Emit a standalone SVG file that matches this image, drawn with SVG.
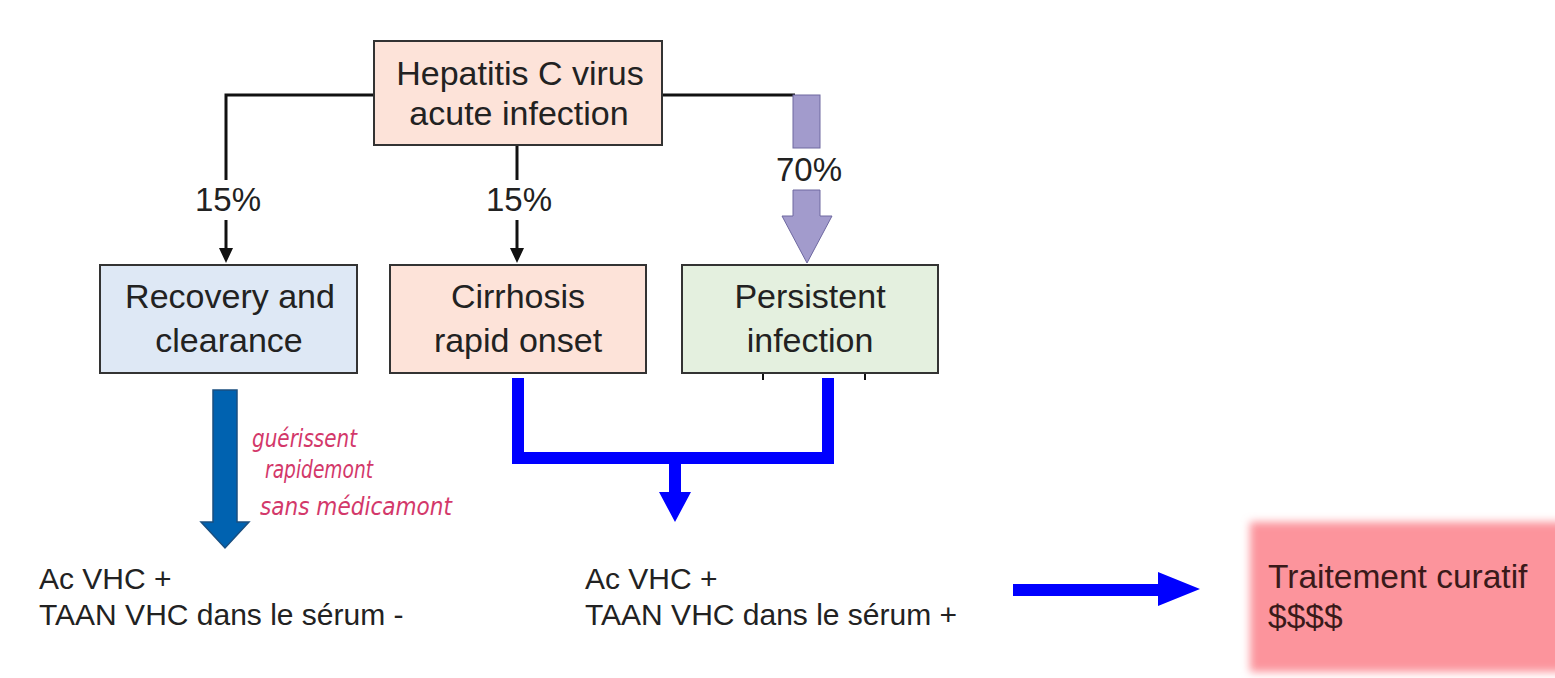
<svg xmlns="http://www.w3.org/2000/svg" width="1555" height="678" viewBox="0 0 1555 678">
<defs>
<style>
.box{stroke:#333;stroke-width:2}
.t{font-family:"Liberation Sans",Arial,sans-serif;font-size:34px;fill:#222;text-anchor:middle}
.p{font-family:"Liberation Sans",Arial,sans-serif;font-size:33px;fill:#222;text-anchor:middle}
.b{font-family:"Liberation Sans",Arial,sans-serif;font-size:30px;fill:#222}
.hw{font-family:"DejaVu Sans",sans-serif;font-style:italic;font-weight:300;font-size:25px;fill:#d3386a}
.k{stroke:#111;stroke-width:3;fill:none}
</style>
<filter id="blur" x="-10%" y="-10%" width="120%" height="120%"><feGaussianBlur stdDeviation="4"/></filter>
</defs>
<rect width="1555" height="678" fill="#fff"/>
<g id="connectors">
<path class="k" d="M374,95 H226 V180"/>
<path class="k" d="M226,220 V250"/>
<path d="M219,248 L226,263 L233,248 Z" fill="#111"/>
<path class="k" d="M517,145 V180"/>
<path class="k" d="M517,220 V250"/>
<path d="M510,248 L517,263 L524,248 Z" fill="#111"/>
<path class="k" d="M662,95 H795"/>
<rect x="793" y="95" width="27" height="53" fill="#a29bcc" stroke="#6e68a0" stroke-width="1"/>
<path d="M793,190 H820 V216 H832 L807,263 L782,216 H793 Z" fill="#a29bcc" stroke="#6e68a0" stroke-width="1"/>
<path d="M763,373 V380 M865,373 V380" stroke="#111" stroke-width="2"/>
<path d="M213,390 H237 V522 H249 L225,548 L201,522 H213 Z" fill="#0062b0" stroke="#1a4f80" stroke-width="1.5"/>
<path d="M518,378 V458 H828 V378" fill="none" stroke="#0000ff" stroke-width="12"/>
<path d="M669,458 V492 H659 L675,522 L691,492 H681 V458 Z" fill="#0000ff"/>
<path d="M1013,584 H1158 V572 L1200,589 L1158,606 V596 H1013 Z" fill="#0000ff"/>
</g>
<g id="labels">
<text class="p" x="228" y="211">15%</text>
<text class="p" x="519" y="211">15%</text>
<text class="p" x="809" y="181">70%</text>
</g>
<g id="n-hcv">
<rect class="box" x="374" y="41" width="288" height="104" fill="#fde3d9"/>
<text class="t" x="520" y="85">Hepatitis C virus</text>
<text class="t" x="519" y="125">acute infection</text>
</g>
<g id="n-recovery">
<rect class="box" x="100" y="265" width="257" height="108" fill="#dee8f5"/>
<text class="t" x="230" y="308">Recovery and</text>
<text class="t" x="229" y="352">clearance</text>
</g>
<g id="n-cirrhosis">
<rect class="box" x="390" y="265" width="256" height="108" fill="#fde3d9"/>
<text class="t" x="518" y="308">Cirrhosis</text>
<text class="t" x="518" y="352">rapid onset</text>
</g>
<g id="n-persistent">
<rect class="box" x="682" y="265" width="256" height="108" fill="#e4f0df"/>
<text class="t" x="810" y="308">Persistent</text>
<text class="t" x="810" y="352">infection</text>
</g>
<g id="note">
<text class="hw" x="252" y="447" textLength="105" lengthAdjust="spacingAndGlyphs">guérissent</text>
<text class="hw" x="265" y="478" textLength="108" lengthAdjust="spacingAndGlyphs">rapidemont</text>
<text class="hw" x="260" y="515" textLength="192" lengthAdjust="spacingAndGlyphs">sans médicamont</text>
</g>
<g id="n-neg">
<text class="b" x="39" y="589">Ac VHC +</text>
<text class="b" x="39" y="625">TAAN VHC dans le sérum -</text>
</g>
<g id="n-pos">
<text class="b" x="585" y="589">Ac VHC +</text>
<text class="b" x="585" y="625">TAAN VHC dans le sérum +</text>
</g>
<g id="n-treat">
<rect x="1250" y="522" width="320" height="150" fill="#fc949c" filter="url(#blur)"/>
<text class="b" x="1268" y="588" style="fill:#3a1a1a;font-size:33.5px">Traitement curatif</text>
<text class="b" x="1268" y="628" style="fill:#3a1a1a;font-size:33.5px">$$$$</text>
</g>
</svg>
